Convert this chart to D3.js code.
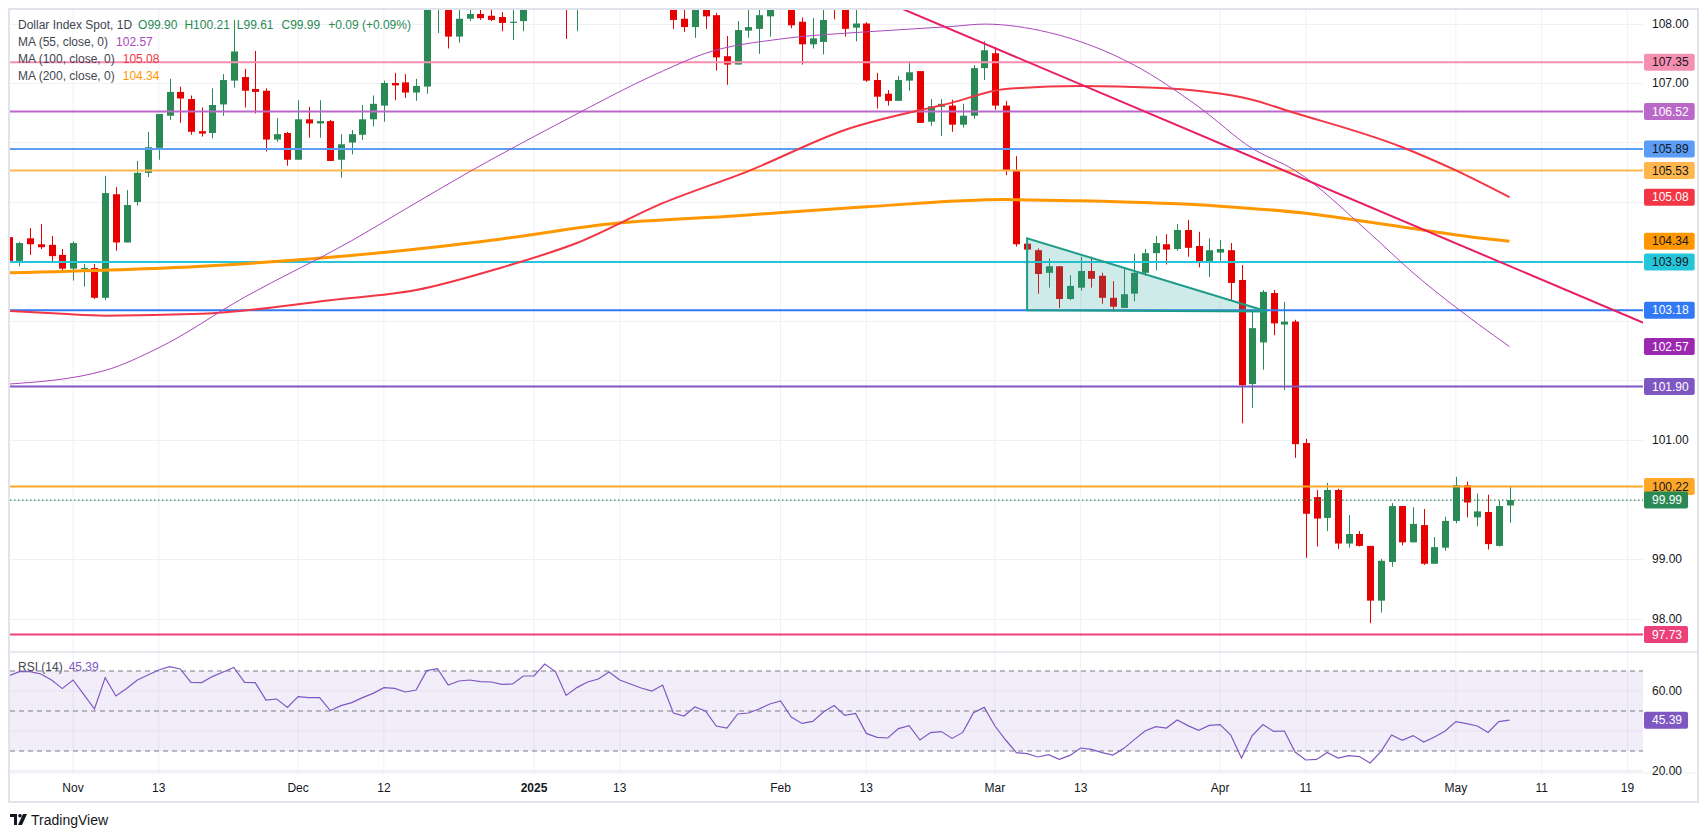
<!DOCTYPE html>
<html>
<head>
<meta charset="utf-8">
<script src="https://cdn.jsdelivr.net/npm/d3@7"></script>
<style>
body { margin: 0; background: #fff; }
text { font-family: "Liberation Sans", Arial, sans-serif; }
</style>
</head>
<body>
<svg id="chart" width="1708" height="837"></svg>
<script>
// ---- data ----
var firstDay = "2024-10-24";
var lastDay = "2025-05-08";

// daily candles [open, high, low, close], one per weekday
var candles = [
	[104.41,104.45,103.99,104.01],[104.01,104.33,103.92,104.31],[104.39,104.56,104.11,104.29],[104.29,104.63,104.21,104.24],
	[104.28,104.43,103.98,104.09],[104.11,104.21,103.81,103.88],[103.88,104.34,103.68,104.31],[103.87,103.96,103.58,103.89],
	[103.89,103.96,103.37,103.39],[103.39,105.44,103.35,105.15],[105.13,105.25,104.18,104.32],[104.32,105.20,104.32,104.95],
	[105.00,105.69,104.94,105.49],[105.49,106.18,105.42,105.92],[105.91,106.48,105.71,106.48],[106.45,107.07,106.38,106.85],
	[106.85,106.94,106.33,106.74],[106.73,106.79,106.13,106.18],[106.19,106.59,106.10,106.15],[106.16,106.91,106.07,106.63],
	[106.64,107.15,106.45,107.05],[107.04,108.06,106.92,107.53],[107.10,107.24,106.59,106.87],[106.90,107.54,106.49,106.85],
	[106.87,106.91,105.85,106.05],[106.05,106.41,106.01,106.14],[106.16,106.18,105.61,105.71],[105.71,106.71,105.71,106.39],
	[106.39,106.60,106.08,106.32],[106.32,106.71,106.08,106.36],[106.36,106.38,105.69,105.69],[105.71,106.14,105.41,105.97],
	[106.00,106.21,105.80,106.14],[106.13,106.63,106.04,106.39],[106.39,106.79,106.27,106.65],[106.62,107.04,106.35,107.00],
	[107.00,107.17,106.71,106.96],[107.01,107.15,106.75,106.84],[106.84,107.07,106.70,106.95],[106.94,108.40,106.82,108.30],
	[108.30,108.54,107.84,108.42],[108.45,108.50,107.58,107.78],[107.78,108.30,107.68,108.08],[108.08,108.30,108.04,108.16],
	[108.16,108.30,108.06,108.09],[108.13,108.25,108.04,108.06],[108.11,108.19,107.87,108.01],[108.01,108.25,107.72,108.03],
	[108.04,108.55,107.87,108.49],[108.49,108.60,108.35,108.50],[108.50,109.50,108.40,109.39],[109.39,109.55,108.80,108.95],
	[108.95,109.00,107.74,108.26],[108.26,108.70,107.87,108.54],[108.54,109.10,108.40,108.91],[108.91,109.20,108.80,109.17],
	[109.17,110.00,108.90,109.65],[109.65,110.10,109.30,109.35],[109.35,109.60,108.90,109.24],[109.24,109.50,108.70,109.09],
	[109.09,109.20,108.70,108.96],[108.96,109.40,108.80,109.35],[109.30,109.50,107.91,108.06],[108.08,108.40,107.86,107.94],
	[107.94,108.45,107.76,108.38],[108.38,108.50,107.91,108.12],[108.14,108.18,107.21,107.43],[107.45,107.79,106.97,107.31],
	[107.31,108.04,107.31,107.89],[107.88,108.26,107.76,107.94],[107.91,108.30,107.49,108.14],[108.12,108.50,107.78,108.37],
	[108.40,109.80,108.30,108.90],[108.90,109.00,107.92,107.97],[108.03,108.10,107.31,107.65],[107.65,108.09,107.58,107.75],
	[107.69,108.30,107.48,108.06],[108.45,108.50,108.07,108.32],[108.32,108.40,107.78,107.91],[107.93,108.30,107.70,108.00],
	[108.00,108.02,107.02,107.04],[107.05,107.17,106.57,106.77],[106.82,106.88,106.62,106.70],[106.70,107.12,106.70,107.05],
	[107.04,107.37,106.87,107.18],[107.20,107.20,106.33,106.33],[106.35,106.73,106.28,106.61],[106.60,106.73,106.11,106.65],
	[106.62,106.72,106.18,106.30],[106.30,106.65,106.25,106.45],[106.45,107.30,106.40,107.25],[107.25,107.70,107.05,107.55],
	[107.50,107.60,106.55,106.62],[106.62,106.70,105.45,105.53],[105.54,105.77,104.25,104.29],[104.30,104.39,103.74,104.20],
	[104.19,104.22,103.46,103.79],[103.81,104.05,103.56,103.92],[103.92,103.92,103.22,103.37],[103.37,103.77,103.35,103.59],
	[103.56,104.08,103.51,103.84],[103.84,104.08,103.56,103.71],[103.76,103.81,103.29,103.39],[103.39,103.67,103.18,103.24],
	[103.22,103.88,103.22,103.45],[103.46,104.13,103.33,103.81],[103.81,104.21,103.76,104.14],[104.14,104.43,103.85,104.31],
	[104.29,104.46,103.95,104.20],[104.21,104.63,104.18,104.53],[104.53,104.70,104.08,104.23],[104.26,104.50,103.90,103.98],
	[104.00,104.39,103.74,104.19],[104.15,104.36,104.01,104.21],[104.19,104.31,103.34,103.64],[103.69,103.94,101.28,101.92],
	[101.94,103.16,101.54,102.88],[102.64,103.52,102.18,103.49],[103.47,103.52,102.76,102.96],[102.94,103.32,101.84,102.99],
	[102.99,103.02,100.70,100.93],[100.95,101.02,99.02,99.76],[100.04,100.16,99.21,99.68],[99.69,100.28,99.47,100.16],
	[100.16,100.18,99.17,99.26],[99.26,99.74,99.19,99.42],[99.42,99.47,99.21,99.22],[99.22,99.22,97.92,98.30],
	[98.30,99.00,98.10,98.97],[98.95,99.94,98.87,99.89],[99.89,99.89,99.23,99.28],[99.28,99.87,99.28,99.59],
	[99.57,99.84,98.90,98.92],[98.92,99.37,98.92,99.20],[99.19,99.71,99.14,99.64],[99.64,100.38,99.60,100.24],
	[100.24,100.30,99.70,99.95],[99.70,100.10,99.55,99.80],[99.79,100.08,99.16,99.25],[99.22,99.98,99.21,99.89],
	[99.90,100.21,99.61,99.99]
];

// change shown in the legend
var dayChange = 0.09, dayChangePct = 0.09;

// RSI(14), one value per candle
var rsi = [
	67.5,69.7,69.7,68.5,65.5,61.2,65.5,58.3,51.0,66.7,57.5,61.3,65.5,68.0,70.5,72.2,71.0,64.3,64.2,67.2,
	69.5,71.8,64.3,64.2,55.5,56.0,51.8,57.2,56.7,56.7,50.2,52.7,54.2,56.7,58.8,61.7,61.3,59.5,60.5,70.2,
	71.2,63.0,65.0,65.5,64.7,64.5,63.3,63.5,67.5,67.5,73.5,69.7,57.8,61.7,64.5,66.0,69.5,65.5,63.5,61.5,
	60.0,63.0,49.0,47.5,52.0,50.0,42.5,41.5,48.5,49.0,51.0,53.5,55.0,47.0,43.8,44.8,49.5,52.7,47.8,48.8,
	38.8,36.8,36.5,41.2,42.7,35.5,39.2,39.7,36.3,39.3,49.2,51.8,42.5,35.5,29.2,28.7,27.0,28.2,25.8,27.8,
	31.5,30.8,29.2,28.0,31.2,35.7,40.0,42.2,41.5,45.5,42.7,40.3,42.8,43.2,38.0,26.5,37.7,43.2,39.8,40.0,
	29.5,25.5,25.8,29.3,26.5,27.7,27.2,24.0,29.7,38.0,35.3,37.7,34.5,37.0,40.0,44.7,43.7,42.5,39.3,44.7,
	45.39
];

// moving averages: [bar index, value]
var ma55 = [[0,101.94],[9,102.17],[14,102.55],[22,103.40],[32,104.35],[37,104.88],[43,105.51],[51,106.29],
	[61,107.20],[65,107.50],[72,107.74],[80,107.86],[88,107.95],[91,107.99],[97,107.85],[105,107.30],
	[111,106.60],[116,105.90],[120,105.53],[127,104.47],[131,103.81],[137,102.96],[140,102.57]];
var ma100 = [[0,103.17],[5,103.12],[9,103.09],[18,103.12],[30,103.35],[38,103.52],[46,103.90],[53,104.31],
	[61,104.98],[69,105.52],[78,106.21],[88,106.67],[93,106.90],[100,106.95],[107,106.92],[116,106.72],
	[119,106.55],[130,105.92],[135,105.53],[140,105.08]];
var ma200 = [[0,103.81],[18,103.92],[37,104.19],[46,104.38],[56,104.63],[68,104.77],[80,104.92],[93,105.04],
	[100,105.02],[113,104.93],[121,104.81],[130,104.58],[137,104.40],[140,104.34]];

// horizontal levels drawn on the chart
var levelValues = [107.35, 106.52, 105.89, 105.53, 103.99, 103.18, 101.90, 100.22, 97.73];

// descending trend line and triangle: [bar index, price]
var trendLine = [[82, 108.35], [152.5, 102.97]];
var triangle = [[95, 104.39], [95, 103.18], [117.4, 103.16]];

var priceTicks = [98, 99, 100, 101, 102, 103, 104, 105, 106, 107, 108];
var rsiTicks = [20, 40, 60];
var rsiBands = [70, 50, 30];

var timeTicks = [
	["2024-11-01","Nov"],["2024-11-13","13"],["2024-12-02","Dec"],["2024-12-12","12"],["2025-01-01","2025"],
	["2025-01-13","13"],["2025-02-03","Feb"],["2025-02-13","13"],["2025-03-03","Mar"],["2025-03-13","13"],
	["2025-04-01","Apr"],["2025-04-11","11"],["2025-05-01","May"],["2025-05-11","11"],["2025-05-19","19"]
];

// ---- layout ----
var W = 1708, H = 837;
var plotL = 10, plotR = 1643;
var mainT = 10, mainB = 652, rsiB = 773, axisB = 802;

var upColor = "#2a8a56", downColor = "#e60000";
var levelColors = ["#f48fb1", "#ba68c8", "#5b9cf6", "#ffb74d", "#26c6da", "#3179f5", "#7e57c2", "#ffa726", "#ec407a"];
var levelText = ["#131722", "#fff", "#131722", "#131722", "#131722", "#fff", "#fff", "#131722", "#fff"];

var parseDate = d3.timeParse("%Y-%m-%d");
var days = d3.timeDay.range(parseDate(firstDay), d3.timeDay.offset(parseDate(lastDay), 1))
	.filter(function(d) { return d.getDay() != 0 && d.getDay() != 6; });
var lastIdx = days.length - 1;

function dateIndex(s) {
	var d = parseDate(s);
	for (var i = 0; i < days.length; i++) {
		if (+days[i] == +d) return i;
	}
	// future area: one slot per calendar day
	return lastIdx + d3.timeDay.count(days[lastIdx], d);
}

var x = d3.scaleLinear().domain([0, lastIdx]).range([8.7, 8.7 + lastIdx * 10.72]);
var y = d3.scaleLinear().domain([98, 108]).range([618.5, 23.5]);
var yr = d3.scaleLinear().domain([30, 70]).range([751, 671]);

var svg = d3.select("#chart");
svg.append("rect").attr("width", W).attr("height", H).attr("fill", "#fff");

var defs = svg.append("defs");
defs.append("clipPath").attr("id", "clipMain")
	.append("rect").attr("x", plotL).attr("y", mainT).attr("width", plotR - plotL).attr("height", mainB - mainT);
defs.append("clipPath").attr("id", "clipRsi")
	.append("rect").attr("x", plotL).attr("y", mainB).attr("width", plotR - plotL).attr("height", rsiB - mainB);

// grid
var grid = svg.append("g");
grid.selectAll(".vgrid")
	.data(timeTicks)
	.enter()
	.append("line")
	.attr("x1", function(d) { return x(dateIndex(d[0])); })
	.attr("x2", function(d) { return x(dateIndex(d[0])); })
	.attr("y1", mainT)
	.attr("y2", rsiB)
	.attr("stroke", "#f0f1f4");
grid.selectAll(".hgrid")
	.data(priceTicks)
	.enter()
	.append("line")
	.attr("x1", plotL)
	.attr("x2", plotR)
	.attr("y1", function(d) { return Math.round(y(d)) + 0.5; })
	.attr("y2", function(d) { return Math.round(y(d)) + 0.5; })
	.attr("stroke", "#f0f1f4");

// ---- main pane ----
var main = svg.append("g").attr("clip-path", "url(#clipMain)");

// candles
var bars = main.selectAll(".candle")
	.data(candles)
	.enter()
	.append("g")
	.attr("class", "candle");

bars.append("line")
	.attr("x1", function(d, i) { return Math.round(x(i)) + 0.5; })
	.attr("x2", function(d, i) { return Math.round(x(i)) + 0.5; })
	.attr("y1", function(d) { return y(d[1]); })
	.attr("y2", function(d) { return y(d[2]); })
	.attr("stroke", function(d) { return d[3] >= d[0] ? upColor : downColor; })
	.attr("stroke-width", 1);

bars.append("rect")
	.attr("x", function(d, i) { return Math.round(x(i)) - 3; })
	.attr("y", function(d) { return y(Math.max(d[0], d[3])); })
	.attr("width", 7)
	.attr("height", function(d) { return Math.max(1, Math.abs(y(d[0]) - y(d[3]))); })
	.attr("fill", function(d) { return d[3] >= d[0] ? upColor : downColor; });

// horizontal levels
main.selectAll(".level")
	.data(levelValues)
	.enter()
	.append("line")
	.attr("x1", plotL)
	.attr("x2", plotR)
	.attr("y1", function(d) { return y(d); })
	.attr("y2", function(d) { return y(d); })
	.attr("stroke", function(d, i) { return levelColors[i]; })
	.attr("stroke-width", 2);

// last price dotted line
var lastClose = candles[lastIdx][3];
main.append("line")
	.attr("x1", plotL).attr("x2", plotR)
	.attr("y1", y(lastClose)).attr("y2", y(lastClose))
	.attr("stroke", upColor)
	.attr("stroke-width", 1.3)
	.attr("stroke-dasharray", "1.5,2.5");

// moving averages
var maLine = d3.line()
	.x(function(d) { return x(d[0]); })
	.y(function(d) { return y(d[1]); })
	.curve(d3.curveMonotoneX);

main.append("path").datum(ma200).attr("d", maLine)
	.attr("fill", "none").attr("stroke", "#ff9800").attr("stroke-width", 3);
main.append("path").datum(ma100).attr("d", maLine)
	.attr("fill", "none").attr("stroke", "#f23645").attr("stroke-width", 2);
main.append("path").datum(ma55).attr("d", maLine)
	.attr("fill", "none").attr("stroke", "#ab47bc").attr("stroke-width", 1);

// trend line
main.append("line")
	.attr("x1", x(trendLine[0][0])).attr("y1", y(trendLine[0][1]))
	.attr("x2", x(trendLine[1][0])).attr("y2", y(trendLine[1][1]))
	.attr("stroke", "#e91e63")
	.attr("stroke-width", 2);

// triangle pattern
main.append("path")
	.datum(triangle)
	.attr("d", function(d) { return "M" + d.map(function(p) { return x(p[0]) + "," + y(p[1]); }).join("L") + "Z"; })
	.attr("fill", "rgba(38,166,154,0.22)")
	.attr("stroke", "#1e9b88")
	.attr("stroke-width", 2);

// ---- RSI pane ----
var rsiG = svg.append("g").attr("clip-path", "url(#clipRsi)");
rsiG.append("rect")
	.attr("x", plotL).attr("width", plotR - plotL)
	.attr("y", yr(70)).attr("height", yr(30) - yr(70))
	.attr("fill", "rgba(126,87,194,0.1)");
rsiG.selectAll(".rgrid")
	.data(rsiTicks)
	.enter()
	.append("line")
	.attr("x1", plotL).attr("x2", plotR)
	.attr("y1", function(d) { return yr(d); })
	.attr("y2", function(d) { return yr(d); })
	.attr("stroke", "#e4e1ee");
rsiG.selectAll(".band")
	.data(rsiBands)
	.enter()
	.append("line")
	.attr("x1", plotL).attr("x2", plotR)
	.attr("y1", function(d) { return yr(d); })
	.attr("y2", function(d) { return yr(d); })
	.attr("stroke", "#787b86")
	.attr("stroke-dasharray", "5,4");
rsiG.append("path")
	.datum(rsi)
	.attr("d", d3.line().x(function(d, i) { return x(i); }).y(function(d) { return yr(d); }))
	.attr("fill", "none")
	.attr("stroke", "#7e57c2")
	.attr("stroke-width", 1.2);

// ---- frame and separators ----
svg.append("line").attr("x1", plotL).attr("x2", 1698).attr("y1", mainB).attr("y2", mainB)
	.attr("stroke", "#e0e3eb").attr("stroke-width", 1.5);
svg.append("line").attr("x1", plotL).attr("x2", 1698).attr("y1", rsiB).attr("y2", rsiB)
	.attr("stroke", "#eceef2");
svg.append("rect")
	.attr("x", 9).attr("y", 9).attr("width", 1689).attr("height", axisB - 9)
	.attr("fill", "none").attr("stroke", "#e0e3eb").attr("stroke-width", 2);

// ---- price axis ----
var axisX = 1652;

// badge positions, used to skip tick labels hidden behind them
var badgeYs = levelValues.map(function(v) { return y(v); })
	.concat([y(ma100[ma100.length - 1][1]), y(ma200[ma200.length - 1][1]), y(ma55[ma55.length - 1][1]), y(candles[lastIdx][3])]);
function freeTick(yy) {
	return badgeYs.every(function(b) { return Math.abs(b - yy) > 15; });
}

svg.selectAll(".ptick")
	.data(priceTicks.filter(function(d) { return freeTick(y(d)); }))
	.enter()
	.append("text")
	.attr("x", axisX)
	.attr("y", function(d) { return y(d); })
	.attr("dy", "0.35em")
	.attr("font-size", 12)
	.attr("fill", "#131722")
	.text(function(d) { return d.toFixed(2); });

svg.selectAll(".rtick")
	.data(rsiTicks.filter(function(d) { return Math.abs(yr(d) - yr(rsi[lastIdx])) > 15; }))
	.enter()
	.append("text")
	.attr("x", axisX)
	.attr("y", function(d) { return yr(d); })
	.attr("dy", "0.35em")
	.attr("font-size", 12)
	.attr("fill", "#131722")
	.text(function(d) { return d.toFixed(2); });

// value badges on the price axis
function badge(value, yPos, bg, fg) {
	var g = svg.append("g");
	var r = g.append("rect").attr("fill", bg).attr("rx", 2);
	var t = g.append("text")
		.attr("x", axisX)
		.attr("y", yPos)
		.attr("dy", "0.35em")
		.attr("font-size", 12)
		.attr("fill", fg)
		.text(value.toFixed(2));
	var w = t.node().getComputedTextLength();
	r.attr("x", plotR + 1).attr("y", yPos - 8.5).attr("width", w + 14).attr("height", 17);
}

levelValues.forEach(function(v, i) { badge(v, y(v), levelColors[i], levelText[i]); });
badge(ma100[ma100.length - 1][1], y(ma100[ma100.length - 1][1]), "#f23645", "#fff");
badge(ma200[ma200.length - 1][1], y(ma200[ma200.length - 1][1]), "#ff9800", "#131722");
badge(ma55[ma55.length - 1][1], y(ma55[ma55.length - 1][1]), "#9c27b0", "#fff");
badge(lastClose, y(lastClose), upColor, "#fff");
badge(rsi[lastIdx], yr(rsi[lastIdx]), "#7e57c2", "#fff");

// ---- time axis ----
svg.selectAll(".ttick")
	.data(timeTicks)
	.enter()
	.append("text")
	.attr("x", function(d) { return x(dateIndex(d[0])); })
	.attr("y", 788)
	.attr("dy", "0.35em")
	.attr("text-anchor", "middle")
	.attr("font-size", 12)
	.attr("font-weight", function(d) { return d[1] == "2025" ? 700 : 400; })
	.attr("fill", "#131722")
	.text(function(d) { return d[1]; });

// ---- legends ----
var last = candles[lastIdx];
var leg = svg.append("text").attr("x", 18).attr("y", 29).attr("font-size", 12).attr("fill", "#434651");
leg.append("tspan").text("Dollar Index Spot, 1D");
leg.append("tspan").attr("dx", 6).attr("fill", upColor).text("O" + last[0].toFixed(2));
leg.append("tspan").attr("dx", 7).attr("fill", upColor).text("H" + last[1].toFixed(2));
leg.append("tspan").attr("dx", 7).attr("fill", upColor).text("L" + last[2].toFixed(2));
leg.append("tspan").attr("dx", 8).attr("fill", upColor).text("C" + last[3].toFixed(2));
leg.append("tspan").attr("dx", 8).attr("fill", upColor)
	.text("+" + dayChange.toFixed(2) + " (+" + dayChangePct.toFixed(2) + "%)");

var maLegend = [["MA (55, close, 0)", ma55, "#ab47bc"], ["MA (100, close, 0)", ma100, "#f23645"], ["MA (200, close, 0)", ma200, "#ff9800"]];
maLegend.forEach(function(m, i) {
	var t = svg.append("text").attr("x", 18).attr("y", 46 + i * 17).attr("font-size", 12).attr("fill", "#434651");
	t.append("tspan").text(m[0]);
	t.append("tspan").attr("dx", 8).attr("fill", m[2]).text(m[1][m[1].length - 1][1].toFixed(2));
});

var rl = svg.append("text").attr("x", 18).attr("y", 671).attr("font-size", 12).attr("fill", "#434651");
rl.append("tspan").text("RSI (14)");
rl.append("tspan").attr("dx", 6).attr("fill", "#7e57c2").text(rsi[lastIdx].toFixed(2));

// ---- TradingView mark ----
var logo = svg.append("g").attr("transform", "translate(10,814)");
logo.append("path").attr("d", "M0,0H7V11H4V3H0Z").attr("fill", "#131722");
logo.append("circle").attr("cx", 10).attr("cy", 1.8).attr("r", 1.8).attr("fill", "#131722");
logo.append("path").attr("d", "M13,0H17L12,11H8Z").attr("fill", "#131722");
logo.append("text").attr("x", 21).attr("y", 10.5).attr("font-size", 14).attr("fill", "#131722").text("TradingView");
</script>
</body>
</html>
